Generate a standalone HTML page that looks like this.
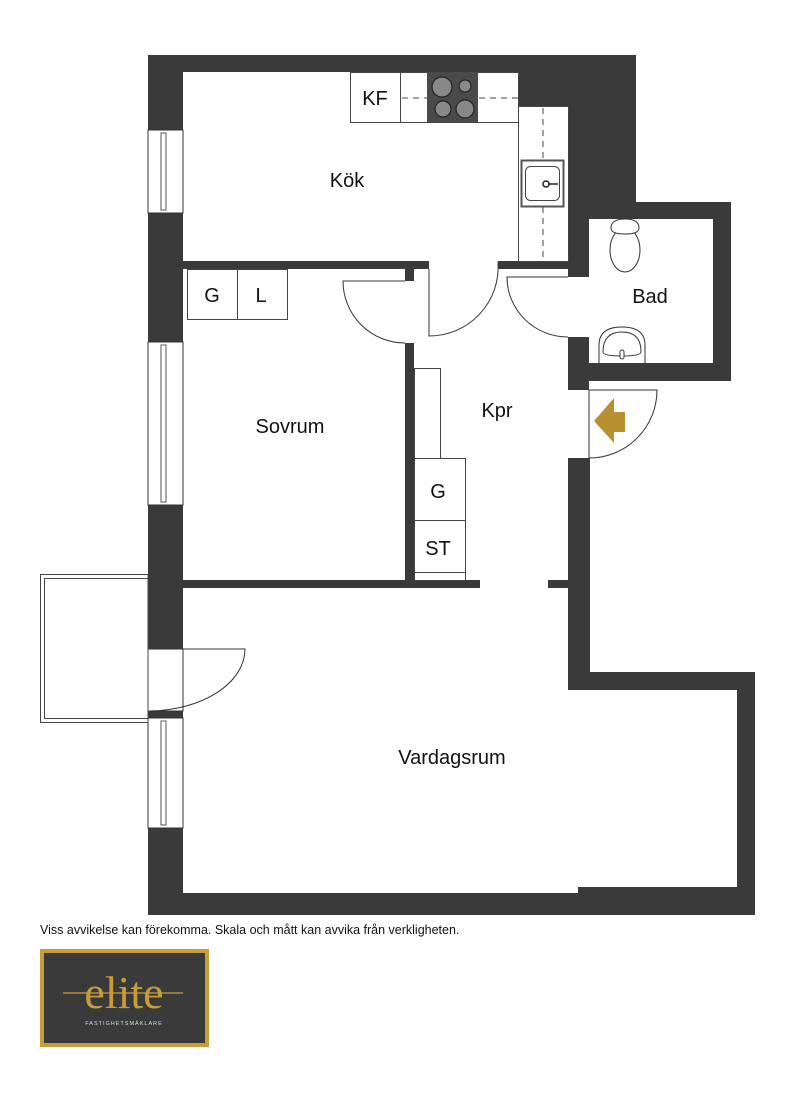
<!DOCTYPE html>
<html><head><meta charset="utf-8"><style>
html,body{margin:0;padding:0;background:#fff;width:800px;height:1102px;overflow:hidden}
svg{display:block}
text{font-family:"Liberation Sans",Arial,sans-serif;fill:#111}
</style></head><body>
<svg width="800" height="1102" viewBox="0 0 800 1102" xmlns="http://www.w3.org/2000/svg">
<g fill="#3a3a3a">
<rect x="148" y="55" width="35" height="860"/>
<rect x="148" y="55" width="488" height="17"/>
<rect x="518" y="55" width="118" height="52"/>
<rect x="568" y="55" width="68" height="164"/>
<rect x="568" y="202" width="163" height="17"/>
<rect x="713" y="202" width="18" height="179"/>
<rect x="568" y="363" width="163" height="18"/>
<rect x="568" y="202" width="21" height="75"/>
<rect x="568" y="337" width="21" height="53"/>
<rect x="568" y="458" width="22" height="232"/>
<rect x="568" y="672" width="187" height="18"/>
<rect x="737" y="672" width="18" height="243"/>
<rect x="148" y="893" width="607" height="22"/>
<rect x="578" y="887" width="177" height="8"/>
<rect x="183" y="261" width="246" height="8"/>
<rect x="498" y="261" width="70" height="8"/>
<rect x="405" y="269" width="9" height="12"/>
<rect x="405" y="343" width="9" height="245"/>
<rect x="183" y="580" width="297" height="8"/>
<rect x="548" y="580" width="20" height="8"/>
</g>
<g fill="#fff" stroke="#333" stroke-width="1">
<rect x="148" y="130" width="35" height="83"/>
<rect x="148" y="342" width="35" height="163"/>
<rect x="148" y="718" width="35" height="110"/>
<rect x="148" y="649" width="35" height="62"/>
</g>
<g fill="none" stroke="#555" stroke-width="1">
<rect x="161" y="133" width="5" height="77"/>
<rect x="161" y="345" width="5" height="157"/>
<rect x="161" y="721" width="5" height="104"/>
<line x1="148" y1="649" x2="148" y2="711"/>
</g>
<g fill="none" stroke="#444" stroke-width="1">
<rect x="40.5" y="574.5" width="107.5" height="148"/>
<rect x="44.5" y="578.5" width="103.5" height="140"/>
</g>
<g fill="none" stroke="#333" stroke-width="1">
<path d="M148 649 H245 A97 62 0 0 1 150 711"/>
<path d="M405 281 H343 A62 62 0 0 0 405 343"/>
<path d="M429 269 V336 A69 69 0 0 0 498 262"/>
<path d="M568 277 H507 A61 60 0 0 0 568 337"/>
<path d="M589 390 V458 A68 68 0 0 0 657 390 H589"/>
</g>
<polygon points="594,421 614,398 614,412 625,412 625,432 614,432 614,443" fill="#b8902f"/>
<g fill="#fff" stroke="#444" stroke-width="1">
<rect x="350.5" y="72.5" width="168" height="50"/>
<line x1="400.5" y1="72" x2="400.5" y2="122"/>
<rect x="518.5" y="106.5" width="50" height="155"/>
</g>
<rect x="427" y="72" width="51" height="50" fill="#4a4a4a"/>
<g fill="#888" stroke="#222" stroke-width="1.2">
<circle cx="442" cy="87" r="10"/><circle cx="465" cy="86" r="6"/>
<circle cx="443" cy="109" r="8"/><circle cx="465" cy="109" r="9"/>
</g>
<g stroke="#444" stroke-width="1" stroke-dasharray="6,5">
<line x1="402" y1="98" x2="427" y2="98"/><line x1="479" y1="98" x2="518" y2="98"/>
<line x1="543" y1="108" x2="543" y2="261"/>
</g>
<rect x="521.5" y="160.5" width="42" height="46" fill="#fff" stroke="#555" stroke-width="2"/>
<rect x="525.5" y="166.5" width="34" height="34" rx="5" fill="#fff" stroke="#444"/>
<circle cx="546" cy="184" r="3" fill="none" stroke="#222" stroke-width="1.5"/>
<line x1="548" y1="184" x2="558" y2="184" stroke="#222" stroke-width="1.5"/>
<g fill="#fff" stroke="#333" stroke-width="1">
<ellipse cx="625" cy="250" rx="15" ry="22"/>
<path d="M611 228 Q611 219 625 219 Q639 219 639 228 Q639 234 625 234 Q611 234 611 228Z"/>
<path d="M599 363 V345 Q599 327 622 327 Q645 327 645 345 V363"/>
<path d="M603 352 Q603 332 622 332 Q641 332 641 352 Q641 356 622 356 Q603 356 603 352Z"/>
<rect x="620" y="350" width="4" height="9" rx="2"/>
</g>
<g fill="#fff" stroke="#444" stroke-width="1">
<rect x="187.5" y="269.5" width="100" height="50"/>
<line x1="237.5" y1="269" x2="237.5" y2="320"/>
<rect x="414.5" y="368.5" width="26" height="90"/>
<rect x="414.5" y="458.5" width="51" height="62"/>
<rect x="414.5" y="520.5" width="51" height="52"/>
<rect x="414.5" y="572.5" width="51" height="8"/>
</g>
<g font-size="20" text-anchor="middle">
<text x="375" y="105">KF</text>
<text x="212" y="302">G</text>
<text x="261" y="302">L</text>
<text x="438" y="498">G</text>
<text x="438" y="555">ST</text>
<text x="347" y="187">Kök</text>
<text x="650" y="303">Bad</text>
<text x="290" y="433">Sovrum</text>
<text x="497" y="417">Kpr</text>
<text x="452" y="764">Vardagsrum</text>
</g>
<text x="40" y="934" font-size="12.5">Viss avvikelse kan förekomma. Skala och mått kan avvika från verkligheten.</text>
<rect x="40" y="949" width="169" height="98" fill="#c79d3a"/>
<rect x="44" y="953" width="161" height="90" fill="#3a3a3a"/>
<text x="124" y="1008" text-anchor="middle" style="font-family:'Liberation Serif',serif;font-size:46px;fill:#c79d3a">elite</text>
<line x1="63" y1="993" x2="183" y2="993" stroke="#c79d3a" stroke-width="1.2"/>
<text x="124" y="1025" font-size="5.5" text-anchor="middle" letter-spacing="1" style="fill:#ddd">FASTIGHETSMÄKLARE</text>
</svg>
</body></html>
